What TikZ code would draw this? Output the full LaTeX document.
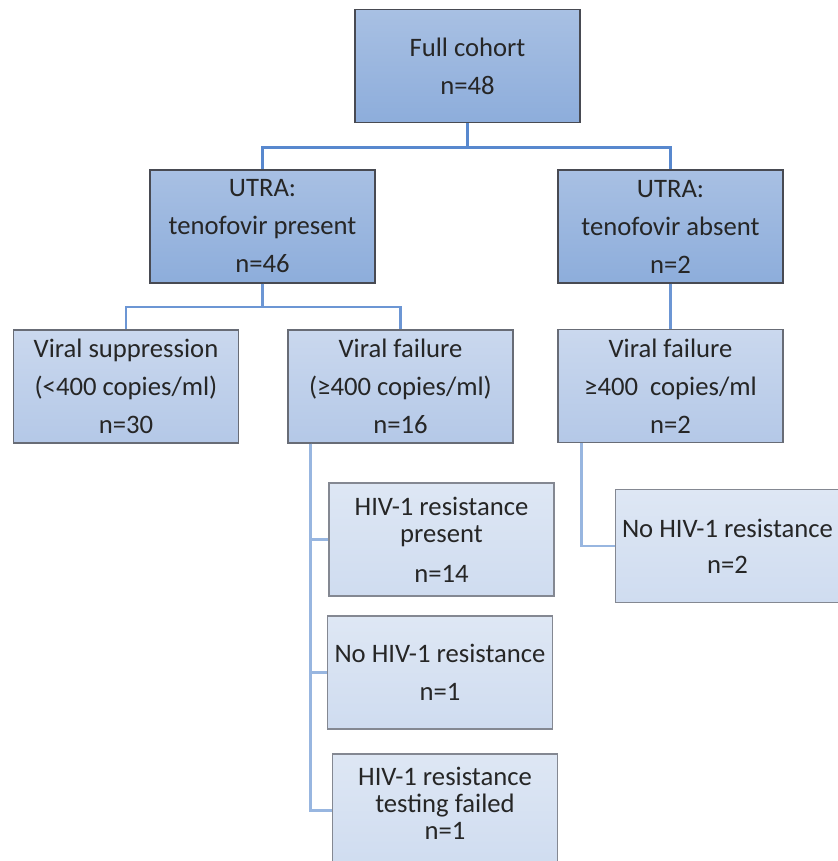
\documentclass[tikz,border=0pt]{standalone}
\usepackage{fontspec}
\setmainfont{Carlito}
\usepackage{tikz}
\usetikzlibrary{positioning, calc}
\definecolor{mytext}{RGB}{38,38,38}
\definecolor{edgedark}{RGB}{72,74,82}
\definecolor{edgemid}{RGB}{104,108,118}
\definecolor{edgelight}{RGB}{132,136,146}
\definecolor{topA}{RGB}{168,192,227}
\definecolor{botA}{RGB}{141,173,219}
\definecolor{topB}{RGB}{202,216,238}
\definecolor{botB}{RGB}{180,200,231}
\definecolor{topC}{RGB}{222,231,244}
\definecolor{botC}{RGB}{207,220,240}
\definecolor{linkA}{RGB}{88,136,206}
\definecolor{linkB}{RGB}{108,150,212}
\definecolor{linkC}{RGB}{152,182,224}
\tikzset{
  mainbox/.style={rectangle, draw=edgedark, top color=topA, bottom color=botA,
    minimum width=168.75pt, minimum height=84.75pt, align=center, inner sep=0pt,
    font=\fontsize{20}{28.5}\selectfont, text=mytext, line width=1pt},
  outcomebox/.style={mainbox, draw=edgemid, top color=topB, bottom color=botB},
  resbox/.style={mainbox, draw=edgelight, top color=topC, bottom color=botC},
  link/.style={line width=2.3pt, color=linkA},
  midlink/.style={line width=2.2pt, color=linkB},
  sublink/.style={line width=2pt, color=linkC}
}

\begin{document}
\begin{tikzpicture}[x=0.75pt, y=-0.75pt]
  \useasboundingbox (0,0) rectangle (838,861);

  % cohort and tenofovir split
  \node[mainbox] (full) at (467.5,66) {Full cohort\\n=48};
  \node[mainbox] (utrap) at (262.5,226.5) {UTRA:\\tenofovir present\\n=46};
  \node[mainbox] (utraa) at (670.5,226.5) {UTRA:\\tenofovir absent\\n=2};

  % viral load outcome
  \node[outcomebox] (vsupp) at (126,386.5) {Viral suppression\\(<400 copies/ml)\\n=30};
  \node[outcomebox] (vfail) at (400.5,386.5) {Viral failure\\(≥400 copies/ml)\\n=16};
  \node[outcomebox] (vfailr) at (670.5,386) {Viral failure\\≥400~ copies/ml\\n=2};

  % resistance testing
  \node[resbox] (hivres) at (441.5,539.5) {HIV-1 resistance\\[-8pt]present\\[1.5pt]n=14};
  \node[resbox] (nores) at (440,672.5) {No HIV-1 resistance\\n=1};
  \node[resbox, text depth=11pt] (hivfail) at (445,810.5) {HIV-1 resistance\\[-8pt]testing failed\\[-8pt]n=1};
  \node[resbox, minimum width=168pt] (noresr) at (727.5,546) {No HIV-1 resistance\\[-1.5pt]n=2};

  \draw[link] (full.south) -- ++(0,-18pt) -| (utrap.north);
  \draw[link] (full.south) -- ++(0,-18pt) -| (utraa.north);
  \draw[midlink] (utrap.south) -- ++(0,-17.5pt) -| (vsupp.north);
  \draw[midlink] (utrap.south) -- ++(0,-17.5pt) -| (vfail.north);
  \draw[midlink] (utraa.south) -- (vfailr.north);

  \draw[sublink] ([xshift=17.25pt]vfail.south west) |- (hivres.west);
  \draw[sublink] ([xshift=17.25pt]vfail.south west) |- (nores.west);
  \draw[sublink] ([xshift=17.25pt]vfail.south west) |- (hivfail.west);
  \draw[sublink] ([xshift=18pt]vfailr.south west) |- (noresr.west);
\end{tikzpicture}
\end{document}
